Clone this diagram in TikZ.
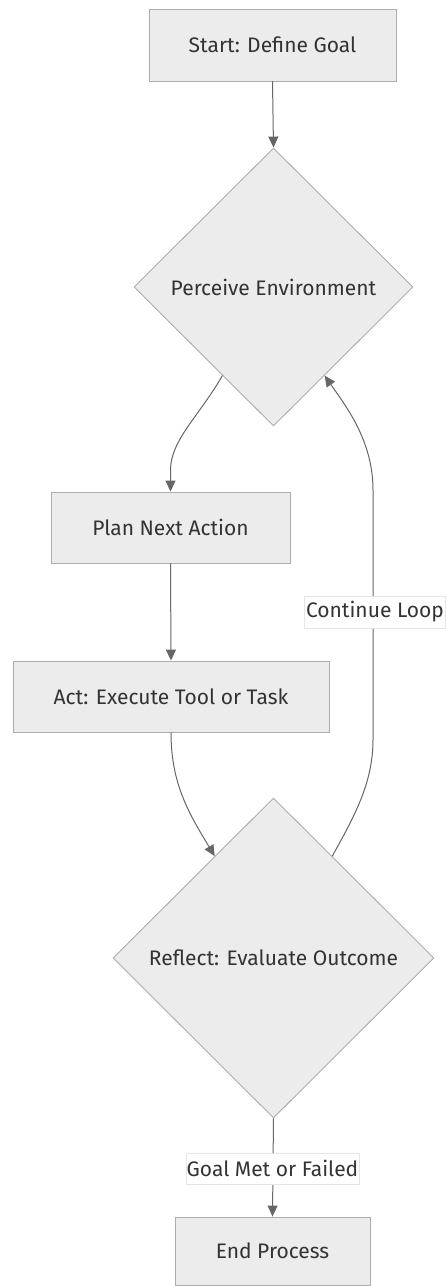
\documentclass[tikz,border=0pt]{standalone}
\usepackage{fontspec}
\setmainfont{Fira Sans}
\usetikzlibrary{shapes.geometric,arrows.meta}
\definecolor{boxfill}{HTML}{ECECEC}
\definecolor{boxline}{HTML}{ADADAD}
\definecolor{edgeline}{HTML}{666666}
\definecolor{txt}{HTML}{333333}
\tikzset{
  every node/.style={font=\fontsize{21}{25}\selectfont, text=txt},
  stepbox/.style={rectangle, draw=boxline, fill=boxfill, line width=0.9pt, inner sep=0pt},
  choice/.style={diamond, aspect=1, draw=boxline, fill=boxfill, line width=0.9pt, inner sep=0pt},
  edgelabel/.style={rectangle, fill=white, draw=black!10, line width=0.5pt, inner sep=0pt},
  flow/.style={draw=edgeline, line width=1pt, -{Triangle[length=11pt,width=10pt]}}
}
\begin{document}
\begin{tikzpicture}[x=1pt,y=-1pt]
\useasboundingbox (0,0) rectangle (446,1286);

% process steps and decisions
\node[stepbox, minimum width=247pt, minimum height=72pt] (start) at (272.5,45) {Start: Define Goal};
\node[choice, minimum width=279pt, minimum height=278pt] (perc) at (273.5,287) {Perceive Environment};
\node[stepbox, minimum width=239pt, minimum height=71pt] (plan) at (170.5,527.5) {Plan Next Action};
\node[stepbox, minimum width=316pt, minimum height=71pt] (act) at (171,696.5) {Act: Execute Tool or Task};
\node[choice, minimum width=321pt, minimum height=320pt] (refl) at (273.5,958) {Reflect: Evaluate Outcome};
\node[stepbox, minimum width=195pt, minimum height=68pt] (endp) at (272.5,1251) {End Process};

% bends of the curved connectors
\coordinate (pp) at (170.5,470);
\coordinate (lpa) at (373,740);
\coordinate (lpb) at (373,490);

% connectors
\draw[flow] (start.south) -- (perc.north);
\draw[flow] (perc.-120) .. controls (200,415) and (170.5,440) .. (pp) -- (plan.north);
\draw[flow] (plan.south) -- (act.north);
\draw[flow] (act.south) .. controls (171,785) and (190,815) .. (refl.120);
\draw[flow] (refl.60) .. controls (352,820) and (373,785) .. (lpa) -- (lpb)
  .. controls (373,440) and (345,405) .. (perc.-60);
\draw[flow] (refl.south) -- (endp.north);

% edge labels
\node[edgelabel, minimum width=141pt, minimum height=32pt] (loop) at (375,612) {Continue Loop};
\node[edgelabel, minimum width=173pt, minimum height=31pt] (done) at (272.5,1168.5) {Goal Met or Failed};
\end{tikzpicture}
\end{document}
